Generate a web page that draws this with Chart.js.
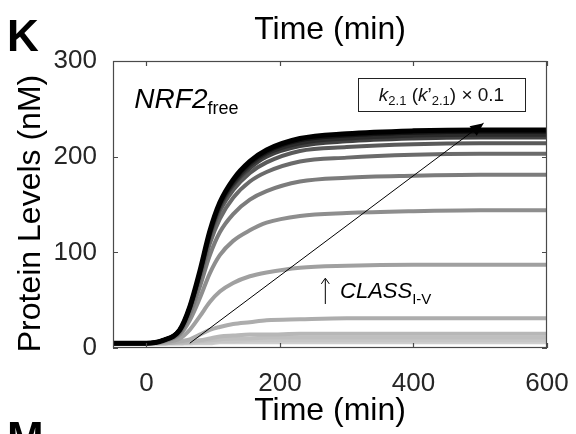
<!DOCTYPE html>
<html>
<head>
<meta charset="utf-8">
<script src="https://cdn.jsdelivr.net/npm/chart.js@4/dist/chart.umd.min.js"></script>
<style>
  html, body { margin: 0; padding: 0; background: #fff; }
  #wrap { width: 576px; height: 434px; }
</style>
</head>
<body>
<div id="wrap"><canvas id="chart" width="576" height="434"></canvas></div>
<script>
// time axis (min)
var times = [-50, 0, 25, 50, 65, 80, 95, 110, 130, 155, 180, 230, 300, 400, 500, 600];

// NRF2 free levels (nM), one run per scaling, darkest (strongest) first
var lvl228 = [5, 5, 8, 19, 43, 80, 122, 152, 176, 195, 207, 219, 224, 227, 228, 228];
var lvl226 = [5, 5, 8, 19, 43, 79, 121, 151, 174, 193, 205, 217, 222, 225, 226, 226];
var lvl223 = [5, 5, 8, 19, 42, 78, 119, 149, 172, 191, 203, 214, 219, 222, 223, 223];
var lvl220 = [5, 5, 8, 19, 42, 77, 118, 147, 170, 188, 200, 211, 216, 219, 220, 220];
var lvl214 = [5, 5, 8, 18, 41, 75, 115, 143, 165, 183, 194, 206, 210, 213, 214, 214];
var lvl203 = [5, 5, 8, 17, 39, 72, 109, 135, 157, 174, 184, 195, 199, 202, 203, 203];
var lvl181 = [5, 5, 7, 16, 35, 64, 97, 121, 140, 155, 164, 174, 178, 180, 181, 181];
var lvl144 = [5, 5, 7, 14, 29, 52, 78, 97, 112, 123, 131, 138, 141, 143, 144, 144];
var lvl87  = [5, 5, 6, 10, 19, 33, 48, 59, 68, 75, 79, 84, 86, 87, 87, 87];
var lvl31  = [5, 5, 5, 7, 9, 14, 19, 22, 25, 27, 29, 30, 31, 31, 31, 31];
var lvl15  = [5, 5, 5, 6, 7, 8, 10, 12, 13, 14, 14, 15, 15, 15, 15, 15];
var lvl11  = [5, 5, 5, 5, 6, 7, 8, 9, 10, 10, 11, 11, 11, 11, 11, 11];
var lvl8   = [5, 5, 5, 5, 5, 6, 6, 7, 7, 8, 8, 8, 8, 8, 8, 8];
var lvl6   = [5, 5, 5, 5, 5, 5, 5, 6, 6, 6, 6, 6, 6, 6, 6, 6];

var runs = [lvl228, lvl226, lvl223, lvl220, lvl214, lvl203, lvl181, lvl144, lvl87, lvl31, lvl15, lvl11, lvl8, lvl6];
var greys = ["#000000", "#141414", "#2a2a2a", "#404040", "#5a5a5a", "#6b6b6b", "#7c7c7c",
             "#8e8e8e", "#a0a0a0", "#adadad", "#b7b7b7", "#bfbfbf", "#c7c7c7", "#cfcfcf"];

var xTicks = [0, 200, 400, 600];
var yTicks = [0, 100, 200, 300];

// annotation anchors in data units
var arrowFrom = [65, 5];
var arrowTo = [505, 235];
var FONT = "'Liberation Sans', Arial, sans-serif";

var datasets = runs.map(function (vals, i) {
    return {
        data: vals.map(function (v, j) { return { x: times[j], y: v }; }),
        borderColor: greys[i],
        borderWidth: i === 0 ? 5 : 4,
        pointRadius: 0,
        fill: false,
        cubicInterpolationMode: "monotone"
    };
});

function runText(ctx, x, y, parts) {
    parts.forEach(function (p) {
        ctx.font = p.font;
        ctx.fillText(p.t, x, y + (p.dy || 0));
        x += ctx.measureText(p.t).width;
    });
    return x;
}
function runWidth(ctx, parts) {
    var w = 0;
    parts.forEach(function (p) { ctx.font = p.font; w += ctx.measureText(p.t).width; });
    return w;
}

var decor = {
    id: "decor",
    afterDatasetsDraw: function (chart) {
        var ctx = chart.ctx, a = chart.chartArea;
        var xs = chart.scales.x, ys = chart.scales.y;
        ctx.save();

        // diagonal arrow
        var x0 = xs.getPixelForValue(arrowFrom[0]), y0 = ys.getPixelForValue(arrowFrom[1]);
        var x1 = xs.getPixelForValue(arrowTo[0]), y1 = ys.getPixelForValue(arrowTo[1]);
        var ang = Math.atan2(y1 - y0, x1 - x0);
        ctx.strokeStyle = "#000"; ctx.lineWidth = 1;
        ctx.beginPath(); ctx.moveTo(x0, y0); ctx.lineTo(x1, y1); ctx.stroke();
        ctx.fillStyle = "#000";
        ctx.beginPath();
        ctx.moveTo(x1, y1);
        ctx.lineTo(x1 - 13 * Math.cos(ang) + 6 * Math.sin(ang), y1 - 13 * Math.sin(ang) - 6 * Math.cos(ang));
        ctx.lineTo(x1 - 13 * Math.cos(ang) - 6 * Math.sin(ang), y1 - 13 * Math.sin(ang) + 6 * Math.cos(ang));
        ctx.closePath(); ctx.fill();

        // box around plot
        ctx.strokeStyle = "#4a4a4a"; ctx.lineWidth = 1.2;
        ctx.strokeRect(a.left + 0.5, a.top + 0.5, a.right - a.left - 1, a.bottom - a.top - 1);
        ctx.beginPath();
        xTicks.forEach(function (t) {
            var px = Math.round(xs.getPixelForValue(t)) + 0.5;
            ctx.moveTo(px, a.bottom); ctx.lineTo(px, a.bottom - 5);
            ctx.moveTo(px, a.top); ctx.lineTo(px, a.top + 5);
        });
        yTicks.forEach(function (t) {
            var py = Math.round(ys.getPixelForValue(t)) + 0.5;
            ctx.moveTo(a.left, py); ctx.lineTo(a.left + 5, py);
            ctx.moveTo(a.right, py); ctx.lineTo(a.right - 5, py);
        });
        ctx.stroke();

        // k2.1 label box
        var bx0 = xs.getPixelForValue(317), bx1 = xs.getPixelForValue(567);
        var by0 = ys.getPixelForValue(282), by1 = ys.getPixelForValue(247);
        ctx.fillStyle = "#fff"; ctx.fillRect(bx0, by0, bx1 - bx0, by1 - by0);
        ctx.strokeStyle = "#222"; ctx.lineWidth = 1;
        ctx.strokeRect(Math.round(bx0) + 0.5, Math.round(by0) + 0.5, Math.round(bx1 - bx0), Math.round(by1 - by0));
        var kParts = [
            { t: "k", font: "italic 19px " + FONT },
            { t: "2.1", font: "13px " + FONT, dy: 4 },
            { t: " (", font: "19px " + FONT },
            { t: "k", font: "italic 19px " + FONT },
            { t: "\u2019", font: "19px " + FONT },
            { t: "2.1", font: "13px " + FONT, dy: 4 },
            { t: ") \u00d7 0.1", font: "19px " + FONT }
        ];
        ctx.fillStyle = "#111"; ctx.textBaseline = "alphabetic"; ctx.textAlign = "left";
        var kw = runWidth(ctx, kParts);
        runText(ctx, (bx0 + bx1) / 2 - kw / 2, (by0 + by1) / 2 + 6, kParts);

        // NRF2free
        ctx.fillStyle = "#000";
        runText(ctx, xs.getPixelForValue(-18), ys.getPixelForValue(251), [
            { t: "NRF2", font: "italic 28px " + FONT },
            { t: "free", font: "18px " + FONT, dy: 6 }
        ]);

        // CLASS arrow
        var cx = xs.getPixelForValue(268);
        ctx.strokeStyle = "#000"; ctx.lineWidth = 1;
        ctx.beginPath();
        ctx.moveTo(cx, ys.getPixelForValue(46)); ctx.lineTo(cx, ys.getPixelForValue(72));
        ctx.moveTo(cx - 4, ys.getPixelForValue(67)); ctx.lineTo(cx, ys.getPixelForValue(73)); ctx.lineTo(cx + 4, ys.getPixelForValue(67));
        ctx.stroke();
        runText(ctx, xs.getPixelForValue(290), ys.getPixelForValue(52), [
            { t: "CLASS", font: "italic 22px " + FONT },
            { t: "I-V", font: "15px " + FONT, dy: 6 }
        ]);

        // titles
        ctx.fillStyle = "#000"; ctx.textAlign = "center"; ctx.textBaseline = "middle";
        ctx.font = "32px " + FONT;
        var mid = (a.left + a.right) / 2;
        ctx.fillText("Time (min)", mid, 30);
        ctx.fillText("Time (min)", mid, 411);
        ctx.save();
        ctx.translate(31, (a.top + a.bottom) / 2 + 9);
        ctx.rotate(-Math.PI / 2);
        ctx.fillText("Protein Levels (nM)", 0, 0);
        ctx.restore();

        ctx.font = "bold 44px " + FONT; ctx.textAlign = "left"; ctx.textBaseline = "alphabetic";
        ctx.fillText("K", 7, 51);
        ctx.fillText("M", 7, 453);
        ctx.restore();
    }
};

new Chart(document.getElementById("chart").getContext("2d"), {
    type: "line",
    data: { datasets: datasets },
    options: {
        responsive: false,
        animation: false,
        events: [],
        layout: { padding: { top: 61, right: 29, left: 0, bottom: 0 } },
        plugins: { legend: { display: false }, tooltip: { enabled: false }, title: { display: false } },
        scales: {
            x: {
                type: "linear", min: -50, max: 600,
                afterBuildTicks: function (s) { s.ticks = xTicks.map(function (v) { return { value: v }; }); },
                afterFit: function (s) { s.height = 86; s.paddingLeft = 0; s.paddingRight = 0; },
                grid: { display: false, drawTicks: false },
                border: { display: false },
                ticks: { padding: 20, color: "#262626", font: { family: FONT, size: 26 } }
            },
            y: {
                min: 0, max: 300,
                afterBuildTicks: function (s) { s.ticks = yTicks.map(function (v) { return { value: v }; }); },
                afterFit: function (s) { s.width = 113; s.paddingTop = 0; s.paddingBottom = 0; },
                grid: { display: false, drawTicks: false },
                border: { display: false },
                ticks: { padding: 16, color: "#262626", font: { family: FONT, size: 26 } }
            }
        }
    },
    plugins: [decor]
});
</script>
</body>
</html>
